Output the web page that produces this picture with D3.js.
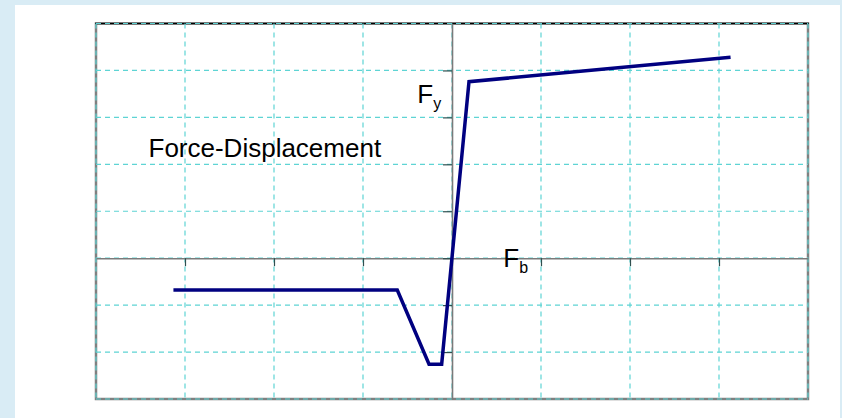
<!DOCTYPE html>
<html>
<head>
<meta charset="utf-8">
<script src="https://cdn.jsdelivr.net/npm/d3@7"></script>
<style>
	body { margin: 0; background: #d9ecf5; }
	svg { display: block; }
	text { font-family: "Liberation Sans", Arial, sans-serif; fill: #000; }
</style>
</head>
<body>
<svg id="plot" width="842" height="418"></svg>
<script>
// displacement (x) and force (y) of the curve
const displacement = [-3.13, -0.615, -0.258, -0.116, 0.191, 3.13];
const force = [-0.68, -0.68, -2.26, -2.26, 3.76, 4.28];

const x_ticks = [-4, -3, -2, -1, 0, 1, 2, 3, 4];
const y_ticks = [-3, -2, -1, 0, 1, 2, 3, 4, 5];

const title_text = "Force-Displacement";
const fy_label = ["F", "y"];
const fb_label = ["F", "b"];

function whenDocumentLoaded(action) {
	if (document.readyState === "loading") {
		document.addEventListener("DOMContentLoaded", action);
	} else {
		action();
	}
}

whenDocumentLoaded(() => {
	const svg = d3.select("#plot");

	// light blue page, white panel
	svg.append("rect")
		.attr("width", 842).attr("height", 418)
		.style("fill", "#d9ecf5");
	svg.append("rect")
		.attr("x", 15).attr("y", 5)
		.attr("width", 825).attr("height", 413)
		.style("fill", "white");

	const x = d3.scaleLinear().domain([-4, 4]).range([96, 808]);
	const y = d3.scaleLinear().domain([-3, 5]).range([399, 23.5]);

	// frame
	svg.append("rect")
		.attr("x", x(-4)).attr("y", y(5))
		.attr("width", x(4) - x(-4)).attr("height", y(-3) - y(5))
		.style("fill", "none")
		.style("stroke", "#808080")
		.style("stroke-width", 2.5);
	svg.append("line")
		.attr("x1", x(-4) - 1).attr("x2", x(4) + 1)
		.attr("y1", y(5)).attr("y2", y(5))
		.style("stroke", "black")
		.style("stroke-width", 1.5);

	// dashed grid
	const grid = svg.append("g")
		.style("stroke", "#5ed4d4")
		.style("stroke-width", 1.2)
		.style("stroke-dasharray", "5,4");

	grid.selectAll(".vgrid")
		.data(x_ticks)
		.enter()
		.append("line")
		.attr("x1", d => x(d)).attr("x2", d => x(d))
		.attr("y1", y(5)).attr("y2", y(-3));

	grid.selectAll(".hgrid")
		.data(y_ticks)
		.enter()
		.append("line")
		.attr("x1", x(-4)).attr("x2", x(4))
		.attr("y1", d => y(d)).attr("y2", d => y(d));

	// axes through the origin
	const x_axis = d3.axisBottom(x)
		.tickValues(x_ticks.slice(1, -1))
		.tickSize(8)
		.tickSizeOuter(0)
		.tickFormat("");
	const y_axis = d3.axisLeft(y)
		.tickValues(y_ticks.slice(1, -1))
		.tickSize(9)
		.tickSizeOuter(0)
		.tickFormat("");

	const gx = svg.append("g")
		.attr("transform", "translate(0," + y(0) + ")")
		.call(x_axis);
	const gy = svg.append("g")
		.attr("transform", "translate(" + x(0) + ",0)")
		.call(y_axis);

	[gx, gy].forEach(g => {
		g.select(".domain").style("stroke", "#7a7a7a").style("stroke-width", 1.6);
		g.selectAll(".tick line").style("stroke", "#2f4f4f").style("stroke-width", 1.2);
	});

	// the curve
	const line = d3.line()
		.x((d, i) => x(displacement[i]))
		.y(d => y(d));

	svg.append("path")
		.datum(force)
		.attr("d", line)
		.style("fill", "none")
		.style("stroke", "#000080")
		.style("stroke-width", 3.5)
		.style("stroke-linejoin", "miter");

	// labels
	svg.append("text")
		.attr("x", x(-3.41)).attr("y", y(2.15))
		.style("font-size", "26px")
		.text(title_text);

	function subLabel(parts, px, py) {
		const t = svg.append("text")
			.attr("x", x(px)).attr("y", y(py))
			.style("font-size", "26px");
		t.append("tspan").text(parts[0]);
		t.append("tspan")
			.attr("dy", 6)
			.style("font-size", "16px")
			.text(parts[1]);
	}

	subLabel(fy_label, -0.39, 3.31);
	subLabel(fb_label, 0.576, -0.19);
});
</script>
</body>
</html>
